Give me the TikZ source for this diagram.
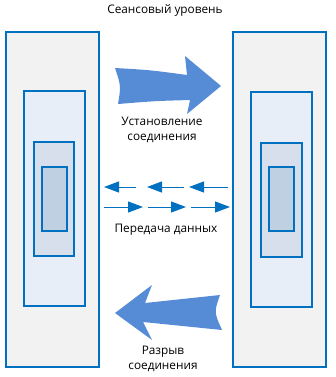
\documentclass[tikz,border=0pt]{standalone}
\usepackage{fontspec}
\setmainfont{Open Sans}
\usetikzlibrary{arrows.meta}
\definecolor{layerline}{HTML}{0070C0}
\definecolor{layerbg}{HTML}{F2F2F2}
\definecolor{layerbgi}{HTML}{E8EEF7}
\definecolor{layerbgii}{HTML}{D6DFEB}
\definecolor{layerbgiii}{HTML}{BFD0E3}
\definecolor{bigarrow}{HTML}{568CD6}
\newcommand{\layerbox}[6]{%
  \node[draw=layerline, line width=2pt, fill=#6, inner sep=0pt,
        minimum width=#4pt, minimum height=#5pt] (#1) at (#2,#3) {};}

\begin{document}
\begin{tikzpicture}[x=1pt, y=-1pt, font=\fontsize{11.8}{15}\selectfont,
    datalink/.style={layerline, line width=1pt, -{Triangle[length=15pt, width=11pt]}}]
  \useasboundingbox (0,0) rectangle (336,377);
  % left stack
  \layerbox{lout}{52.5}{199.5}{93}{335}{layerbg}
  \layerbox{lmid}{54.5}{198.5}{61}{215}{layerbgi}
  \layerbox{lin}{54}{199}{40}{114}{layerbgii}
  \layerbox{lcore}{54.5}{199}{25}{64}{layerbgiii}
  % right stack
  \layerbox{rout}{279.5}{199.5}{93}{335}{layerbg}
  \layerbox{rmid}{281.5}{199.5}{61}{215}{layerbgi}
  \layerbox{rin}{281.5}{200}{41}{114}{layerbgii}
  \layerbox{rcore}{281.5}{199}{25}{64}{layerbgiii}
  \node (title) at (165,10) {Сеансовый уровень};
  % connect
  \fill[bigarrow] (115,68) .. controls (150,70) .. (187,75) -- (185,56) -- (221,86)
    -- (187,114) -- (190,100) .. controls (155,101) .. (118,104)
    .. controls (121,86) .. cycle;
  \node[align=center] (connect) at (162,130) {Установление\\соединения};
  % data
  \coordinate (la1) at (104,187); \coordinate (lb1) at (136,187);
  \coordinate (la2) at (147,187); \coordinate (lb2) at (184,187);
  \coordinate (la3) at (189,187); \coordinate (lb3) at (228,187);
  \coordinate (ra1) at (104,207); \coordinate (rb1) at (143,207);
  \coordinate (ra2) at (148,207); \coordinate (rb2) at (186,207);
  \coordinate (ra3) at (191,207); \coordinate (rb3) at (230,207);
  \foreach \i in {1,2,3} {
    \draw[datalink] (lb\i) -- (la\i);
    \draw[datalink] (ra\i) -- (rb\i);
  }
  \node (data) at (166,230) {Передача данных};
  % release
  \fill[bigarrow] (115,313) -- (152,285) -- (145,303) .. controls (183,299) .. (220,295)
    .. controls (214,312) .. (222,330) .. controls (183,326) .. (143,322)
    -- (152,340) -- cycle;
  \node[align=center] (release) at (163,359) {Разрыв\\соединения};
\end{tikzpicture}
\end{document}
